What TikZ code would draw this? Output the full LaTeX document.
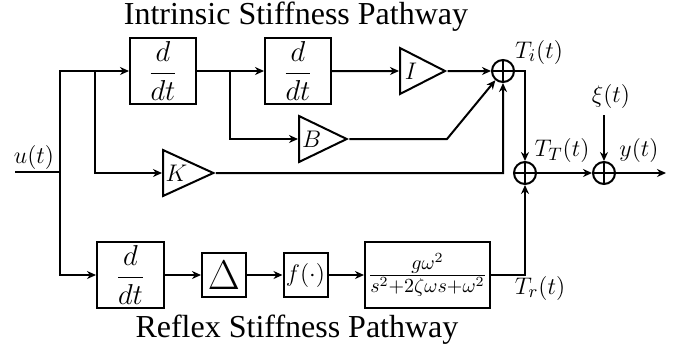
\documentclass[tikz,border=0pt]{standalone}
\usepackage{amsmath}
\usepackage{fontspec}
\setmainfont{Liberation Serif}
\usepackage{tikz}
\usetikzlibrary{arrows.meta, positioning, shapes.geometric, calc}

\begin{document}
\begin{tikzpicture}[
        x=0.5pt, y=-0.5pt,
        font=\fontsize{12.4}{15}\selectfont,
        block/.style={rectangle, draw, line width=1pt, minimum width=33pt, minimum height=33pt, inner sep=0pt, align=center},
        deriv/.style={block, font=\fontsize{13.5}{16}\selectfont},
        gain/.style={isosceles triangle, isosceles triangle stretches, draw, line width=1pt, minimum width=23pt, minimum height=22.5pt, inner sep=1pt, anchor=west},
        sum/.style={circle, draw, line width=1pt, minimum size=11pt, inner sep=0pt,
            path picture={\draw[line width=0.7pt] (path picture bounding box.north) -- (path picture bounding box.south) (path picture bounding box.west) -- (path picture bounding box.east);}},
        arrow/.style={-{Stealth[length=4.5pt, width=4pt]}, line width=1pt},
        line/.style={line width=1pt},
        title/.style={font=\fontsize{16}{19}\selectfont}
    ]
        \useasboundingbox (0,0) rectangle (675,349);
        % intrinsic pathway
        \node[deriv] (diff1) at (163,71) {$\displaystyle\frac{d}{dt}$};
        \node[deriv] (diff2) at (298,71) {$\displaystyle\frac{d}{dt}$};
        \node[gain] (gainI) at (399,71) {$I$};
        \node[gain] (gainB) at (298,139) {$B$};
        \node[gain] (gainK) at (162,173) {$K$};
        \node[sum] (sumI) at (503,71) {};
        \node[sum] (sumT) at (525,173) {};
        \node[sum] (sumY) at (604,173) {};
        % reflex pathway
        \node[deriv, minimum width=33.5pt] (diff3) at (130.5,275) {$\displaystyle\frac{d}{dt}$};
        \node[block, minimum size=22pt] (delay) at (224,275) {\fontsize{21}{22}\selectfont$\Delta$};
        \node[block, minimum size=22pt] (nonlin) at (305.5,275) {$f(\cdot)$};
        \node[block, minimum width=62.5pt, font=\fontsize{14}{16}\selectfont] (reflex) at (427.5,275) {$\frac{g\omega^2}{s^2+2\zeta\omega s+\omega^2}$};
        % signals
        \node (uin) at (34,157) {$u(t)$};
        \node (Ti) at (539,52) {$T_i(t)$};
        \node (TT) at (562,150) {$T_T(t)$};
        \node (Tr) at (540,288) {$T_r(t)$};
        \node (noise) at (611,96) {$\xi(t)$};
        \node (yout) at (639,150) {$y(t)$};
        \node[title] (intr) at (296,17) {Intrinsic Stiffness Pathway};
        \node[title] (refl) at (297,330) {Reflex Stiffness Pathway};
        \coordinate (in) at (15,172);
        \coordinate (fork) at (60,172);
        \coordinate (forkK) at (95,71);
        \coordinate (forkB) at (230,71);
        \coordinate (bend) at (447,139);
        \coordinate (out) at (666,173);
        \draw[line] (in) -- (fork);
        \draw[arrow] (fork) |- (diff1);
        \draw[arrow] (fork) |- (diff3);
        \draw[arrow] (forkK) |- (gainK);
        \draw[arrow] (diff1) -- (diff2);
        \draw[arrow] (forkB) |- (gainB);
        \draw[arrow] (diff2) -- (gainI);
        \draw[arrow] (gainI) -- (sumI);
        \draw[arrow] (gainB) -- (bend) -- (sumI);
        \draw[arrow] (gainK) -- (gainK -| sumI) -- (sumI);
        \draw[arrow] (sumI) -| (sumT);
        \draw[arrow] (diff3) -- (delay);
        \draw[arrow] (delay) -- (nonlin);
        \draw[arrow] (nonlin) -- (reflex);
        \draw[arrow] (reflex) -| (sumT);
        \draw[arrow] (sumT) -- (sumY);
        \draw[arrow] (noise.south -| sumY) -- (sumY);
        \draw[arrow] (sumY) -- (out);
    \end{tikzpicture}
\end{document}
